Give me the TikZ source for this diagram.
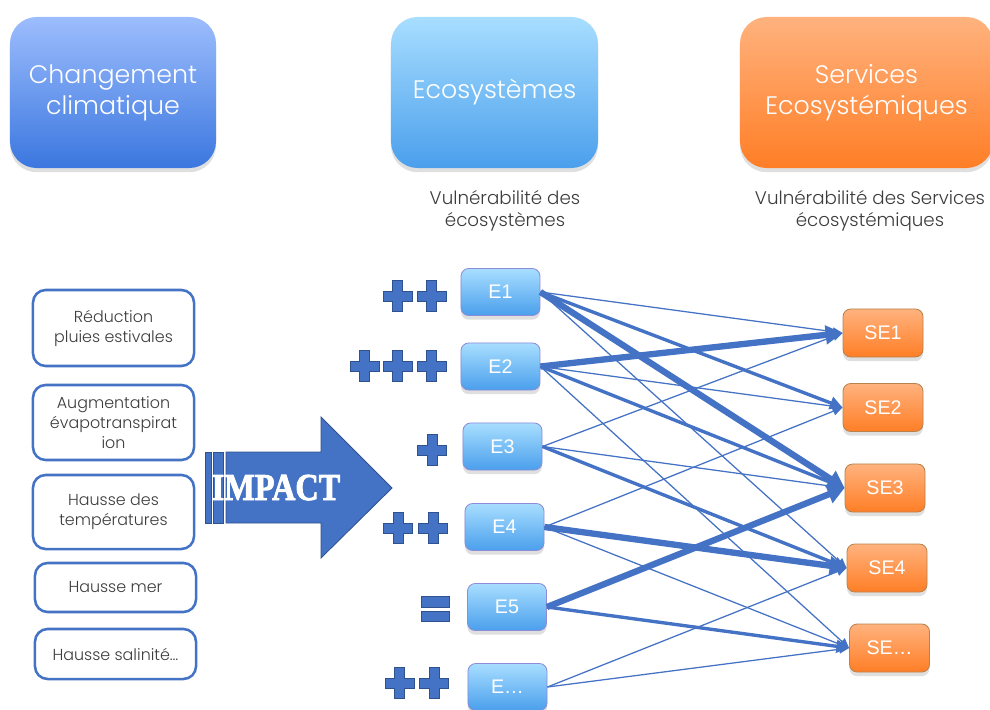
\documentclass[tikz,border=0pt]{standalone}
\usepackage{fontspec}
\usepackage{graphicx}
\setmainfont{Poppins Light}
\newfontfamily\arialfont{Liberation Sans}
\newfontfamily\impactfont{Liberation Serif Bold}[FakeBold=2.5]
\usetikzlibrary{arrows.meta,shadows}

\definecolor{bleuimpact}{HTML}{4472C4}
\definecolor{bleufonce}{HTML}{2F528F}
\definecolor{textegris}{HTML}{3C3C3C}
\definecolor{cchaut}{HTML}{9DBDFD}
\definecolor{ccbas}{HTML}{3B77DF}
\definecolor{ecohaut}{HTML}{A8DEFF}
\definecolor{ecobas}{HTML}{4A9FEC}
\definecolor{servhaut}{HTML}{FFB27E}
\definecolor{servbas}{HTML}{FF7E26}

\tikzset{
  ombre/.style={drop shadow={opacity=0.25,shadow xshift=0pt,shadow yshift=-3pt}},
  grandbloc/.style={rounded corners=19pt,ombre,text=white,align=center,
    inner sep=0pt,font=\fontsize{18}{22}\selectfont},
  cause/.style={draw=bleuimpact,line width=1.8pt,rounded corners=9pt,fill=white,
    align=center,inner sep=0pt,text=textegris,minimum width=4.025cm,
    font=\fontsize{11.3}{14.2}\selectfont},
  ecobloc/.style={rounded corners=5.5pt,ombre,draw=blue!50!gray!60,line width=0.6pt,
    top color=ecohaut,bottom color=ecobas,text=white,inner sep=0pt,
    minimum width=1.975cm,minimum height=1.175cm,
    font=\arialfont\fontsize{14}{14}\selectfont},
  servbloc/.style={ecobloc,draw=orange!60!black!70,top color=servhaut,bottom color=servbas,
    minimum width=2cm,minimum height=1.2cm},
  lien/.style={bleuimpact},
  fin/.style={line width=0.9pt,-{Triangle[length=7pt,width=6pt]}},
  moyen/.style={line width=2.4pt,-{Triangle[length=9pt,width=9pt]}},
  epais/.style={line width=4.5pt,-{Triangle[length=12pt,width=13pt]}},
  croix/.pic={
    \filldraw[fill=bleuimpact,draw=bleufonce,line width=0.5pt]
      (-5,-15.5) -- (5,-15.5) -- (5,-5) -- (14.5,-5) -- (14.5,5) -- (5,5)
      -- (5,15.5) -- (-5,15.5) -- (-5,5) -- (-14.5,5) -- (-14.5,-5) -- (-5,-5) -- cycle;
  }
}

\begin{document}
\begin{tikzpicture}[x=0.025cm,y=-0.025cm]
  \useasboundingbox (0,0) rectangle (990,709);

  % Titres
  \node[grandbloc,top color=cchaut,bottom color=ccbas,
    minimum width=5.15cm,minimum height=3.775cm] (cc) at (113,92.5)
    {Changement\\climatique};
  \node[grandbloc,top color=ecohaut,bottom color=ecobas,
    minimum width=5.175cm,minimum height=3.775cm] (eco) at (494.5,92.5)
    {Ecosystèmes};
  \node[grandbloc,top color=servhaut,bottom color=servbas,
    minimum width=6.325cm,minimum height=3.775cm] (serv) at (866.5,92.5)
    {Services\\Ecosystémiques};

  \node[align=center,text=textegris,font=\fontsize{13}{15.6}\selectfont]
    (vulneco) at (505,211) {Vulnérabilité des\\écosystèmes};
  \node[align=center,text=textegris,font=\fontsize{13}{15.6}\selectfont]
    (vulnserv) at (870,211) {Vulnérabilité des Services\\écosystémiques};

  % Causes climatiques
  \node[cause,minimum height=1.9cm] (c1) at (113.5,328) {Réduction\\pluies estivales};
  \node[cause,minimum height=1.875cm] (c2) at (113.5,422.5) {Augmentation\\évapotranspirat\\ion};
  \node[cause,minimum height=1.85cm] (c3) at (113.5,512) {Hausse des\\températures};
  \node[cause,minimum height=1.225cm] (c4) at (115.5,587.5) {Hausse mer};
  \node[cause,minimum height=1.25cm] (c5) at (115.5,654) {Hausse salinité…};

  % Fleche IMPACT
  \filldraw[fill=bleuimpact,draw=bleufonce,line width=0.6pt]
    (226,452) -- (321,452) -- (321,417) -- (392,488) -- (321,558)
    -- (321,523) -- (226,523) -- cycle;
  \filldraw[fill=bleuimpact,draw=bleufonce,line width=0.6pt] (205,452) rectangle (211,523);
  \filldraw[fill=bleuimpact,draw=bleufonce,line width=0.6pt] (213,452) rectangle (223,523);
  \node[anchor=base,text=white,inner sep=0pt] (impact) at (276,500)
    {\scalebox{0.85}[1]{\impactfont\fontsize{27}{27}\selectfont IMPACT}};

  % Ecosystemes
  \node[ecobloc] (E1) at (500.5,292) {E1};
  \node[ecobloc] (E2) at (500.5,366.5) {E2};
  \node[ecobloc] (E3) at (502.5,446.5) {E3};
  \node[ecobloc] (E4) at (504.5,527) {E4};
  \node[ecobloc] (E5) at (507,607) {E5};
  \node[ecobloc] (Ex) at (507.5,687) {E…};

  % Services
  \node[servbloc] (SE1) at (883,333) {SE1};
  \node[servbloc] (SE2) at (883,407.5) {SE2};
  \node[servbloc] (SE3) at (885,488) {SE3};
  \node[servbloc] (SE4) at (887,568) {SE4};
  \node[servbloc] (SEx) at (889.5,648) {SE…};

  % Intensite de l'impact
  \pic at (397.5,296) {croix};
  \pic at (431.5,296) {croix};
  \foreach \x in {364.5,397.5,431.5}
    \pic at (\x,366) {croix};
  \pic at (432,450) {croix};
  \pic at (398,528) {croix};
  \pic at (433,528) {croix};
  \filldraw[fill=bleuimpact,draw=bleufonce,line width=0.5pt] (421,596) rectangle (449,607);
  \filldraw[fill=bleuimpact,draw=bleufonce,line width=0.5pt] (421,611) rectangle (449,621);
  \pic at (399.5,683) {croix};
  \pic at (434,683) {croix};

  % Liens ecosystemes -> services
  \foreach \a/\b/\s in {E1/SE1/fin,E1/SE2/moyen,E1/SE3/epais,E1/SE4/fin,
      E2/SE1/epais,E2/SE2/fin,E2/SE3/moyen,E2/SEx/fin,
      E3/SE1/fin,E3/SE3/fin,E3/SE4/moyen,
      E4/SE2/fin,E4/SE4/epais,E4/SEx/fin,
      E5/SE3/epais,E5/SEx/moyen,
      Ex/SE4/fin,Ex/SEx/fin}
    \draw[lien,\s] (\a.east) -- (\b.west);
\end{tikzpicture}
\end{document}
